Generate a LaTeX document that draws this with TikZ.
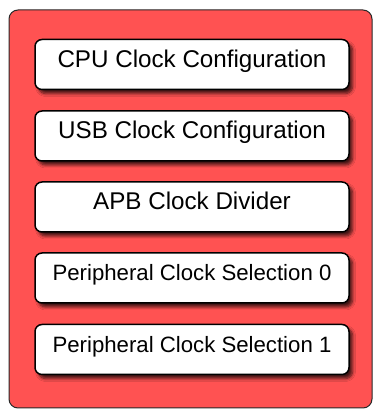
\documentclass[tikz,border=0pt]{standalone}
\usepackage{fontspec}
\setmainfont{Liberation Sans}
\usetikzlibrary{shadows.blur}
\definecolor{outerred}{RGB}{255,82,82}
\definecolor{framegray}{RGB}{40,40,40}
\begin{document}
\begin{tikzpicture}[x=1pt,y=1pt,
  frame/.style={draw=framegray, line width=1pt, fill=outerred, rounded corners=9pt,
    minimum width=363pt, minimum height=398pt, inner sep=0pt},
  item/.style={draw=black, line width=1.5pt, fill=white, rounded corners=7pt,
    minimum width=314pt, minimum height=50pt, inner sep=0pt,
    text height=13pt, text depth=7pt,
    blur shadow={shadow xshift=3.5pt, shadow yshift=-4pt, shadow blur steps=6,
      shadow blur radius=3pt, shadow opacity=75}},
  big/.style={font=\fontsize{24.2}{28}\selectfont},
  small/.style={font=\fontsize{22.2}{26}\selectfont}]
\useasboundingbox (0,0) rectangle (374,410);
\node[frame] (outer) at (190.5,201) {};
\node[item,big] (cpu) at (192,345.5) {CPU Clock Configuration};
\node[item,big] (usb) at (192,274) {USB Clock Configuration};
\node[item,big] (apb) at (192,203) {APB Clock Divider};
\node[item,small] (ps0) at (192,132) {Peripheral Clock Selection 0};
\node[item,small] (ps1) at (192,60.5) {Peripheral Clock Selection 1};
\end{tikzpicture}
\end{document}
